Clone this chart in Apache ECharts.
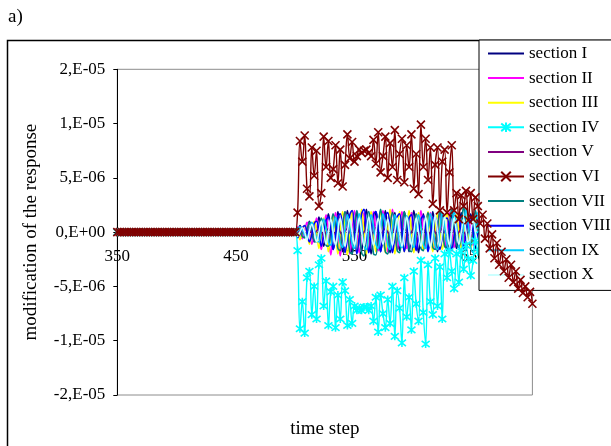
<!DOCTYPE html>
<html><head><meta charset="utf-8">
<script src="https://cdn.jsdelivr.net/npm/echarts@6/dist/echarts.min.js"></script>
<style>html,body{margin:0;padding:0;background:#fff}#c{width:611px;height:446px}</style>
</head><body><div id="c"></div><script>
// time steps (x values)
const timeSteps = [350,352,354,356,358,360,362,364,366,368,370,372,374,376,378,380,382,384,386,388,390,392,394,396,398,400,402,404,406,408,410,412,414,416,418,420,422,424,426,428,430,432,434,436,438,440,442,444,446,448,450,452,454,456,458,460,462,464,466,468,470,472,474,476,478,480,482,484,486,488,490,492,494,496,498,500,
502,504,506,508,510,512,514,516,518,520,522,524,526,528,530,532,534,536,538,540,542,544,546,548,550,552,554,556,558,560,562,564,566,568,570,572,574,576,578,580,582,584,586,588,590,592,594,596,598,600,602,604,606,608,610,612,614,616,618,620,622,624,626,628,630,632,634,636,638,640,642,644,646,648,650,652,654,656,658,660,662,664,666,668,670,672,674,676,678,680,682,684,686,688,690,692,694,696,698,700];
// values before the excitation (t = 350..500), unit 1e-6
const quietValues = [0,0,0,0,0,0,0,0,0,0,0,0,0,0,0,0,0,0,0,0,0,0,0,0,0,0,0,0,0,0,0,0,0,0,0,0,0,0,0,0,0,0,0,0,0,0,0,0,0,0,0,0,0,0,0,0,0,0,0,0,0,0,0,0,0,0,0,0,0,0,0,0,0,0,0,0];
const sectionNames = ['section I','section II','section III','section IV','section V','section VI','section VII','section VIII','section IX','section X'];
// values for t = 502..700, unit 1e-6
const sectionI = [0.1,0.6,0,-0.5, 0.1,1.0,-0.1,-0.9, 0,1.4,0.1,-1.3, 0.1,1.7,0,-1.6, 0,1.9,0.1,-1.8, 0.1,2.0,0,-1.9, 0,1.8,-0.1,-1.7, 0.1,2.1,0,-2.0, 0,1.9,0.1,-1.8, 0.1,2.0,0,-1.9, 0,1.8,0,-1.7, 0.1,1.9,-0.1,-1.8, 0,2.0,0.1,-1.9, 0.1,1.7,0,-1.6, 0,1.9,0,-1.8, 0.1,1.8,-0.1,-1.7, 0,1.6,0.1,-1.5, 0.1,1.8,0,-1.7, 0,1.7,0.1,-1.6, 0.1,1.4,0,-1.3, 0,1.0,0,-0.9, 0.1,0.8,0,-0.7, 0,0.6,0,-0.5, 0,0.5,0,-0.4, 0,0.4,0,-0.3];
const sectionII = [0.5,0,-0.6,0.1, 0.9,0.1,-1.1,0, 1.3,0,-1.6,0.1, 1.6,0.1,-2.1,0, 1.8,0,-2.2,0.1, 1.9,0.1,-2.0,0, 2.0,0,-1.9,0.1, 1.8,0.1,-1.8,0, 1.9,0,-1.7,0.1, 2.0,0.1,-1.8,0, 2.1,0,-1.6,0.1, 1.9,0.1,-1.5,0, 1.8,0,-1.6,0.1, 2.0,0.1,-1.4,0, 1.8,0,-1.5,0.1, 1.7,0.1,-1.3,0, 1.8,0,-1.4,0.1, 1.6,0.1,-1.3,0, 1.5,0,-1.2,0.1, 1.2,0.1,-1.0,0, 0.9,0,-0.8,0.1, 0.7,0,-0.6,0, 0.5,0,-0.5,0, 0.4,0,-0.4,0, 0.3,0,-0.3,0];
const sectionIII = [0,-0.7,0.1,0.6, 0,-1.1,0,1.0, 0.1,-1.5,0,1.3, 0,-1.8,0.1,1.6, 0,-2.0,0,1.9, 0.1,-2.1,0,2.0, 0,-1.9,0.1,2.1, 0,-2.0,0,1.9, 0.1,-1.8,0,2.0, 0,-1.9,0.1,2.1, 0,-2.0,0,1.9, 0.1,-1.8,0,2.0, 0,-1.9,0.1,1.8, 0,-1.7,0,1.9, 0.1,-1.8,0,1.7, 0,-1.6,0.1,1.8, 0,-1.7,0,1.6, 0.1,-1.5,0,1.5, 0,-1.6,0.1,1.4, 0,-1.2,0,1.1, 0.1,-0.9,0,0.8, 0,-0.7,0,0.6, 0,-0.5,0,0.5, 0,-0.4,0,0.4, 0,-0.3,0,0.3];
const sectionIV = [-1.7,-8.9,-6.4,-9.3,-4.2,-3.6,-7.6,-5.0,-8.0,-3.0,-2.4,-6.8,-4.5,-8.6,-5.5,-5.0,-8.8,-5.8,-8.0,-4.6,-5.4,-8.6,-6.2,-8.4,-6.8,-7.2,-7.0,-7.2,-6.9,-6.9,-7.2,-6.8,-8.2,-6.0,-9.2,-5.8,-7.5,-8.8,-6.2,-8.4,-5.0,-9.6,-5.4,-7.0,-10.2,-4.2,-7.8,-6.0,-9.0,-3.6,-6.6,-8.2,-2.6,-7.4,-10.3,-3.0,-6.4,-7.6,-2.4,-6.8,-3.2,-8.0,-2.0,-4.2,-1.8,-3.6,-5.2,-2.0,-4.6,-1.8,-3.4,-1.2,-2.5,-4.0,-2.6,-0.8,-1.8,0.2,-0.6,1.0,0.4,2.0,1.2,3.0,1.6,3.6,2.4,4.4,3.2,4.8,3.8,5.2,4.4,5.6,4.8,6.0,5.2,6.2,5.8,6.4];
const sectionV = [0,0.1,0,-0.1, 0,0.2,0,-0.2, 0.1,0.3,0,-0.3, 0,0.3,0.1,-0.3, 0,0.4,0,-0.3, 0.1,0.3,0,-0.4, 0,0.4,0,-0.3, 0,0.3,0.1,-0.4, 0,0.4,0,-0.3, 0.1,0.3,0,-0.3, 0,0.4,0,-0.4, 0,0.3,0.1,-0.3, 0,0.4,0,-0.3, 0.1,0.3,0,-0.4, 0,0.4,0,-0.3, 0,0.3,0,-0.3, 0.1,0.3,0,-0.3, 0,0.3,0,-0.2, 0,0.2,0.1,-0.3, 0,0.2,0,-0.2, 0,0.2,0,-0.2, 0,0.1,0,-0.1, 0,0.1,0,-0.1, 0,0.1,0,-0.1, 0,0.1,0,-0.1];
const sectionVI = [1.8,8.4,6.5,8.9,4.0,3.3,7.8,5.2,7.5,2.4,3.6,8.8,6.0,8.4,5.0,5.8,8.0,4.5,7.6,4.2,6.2,9.0,6.8,8.3,6.5,7.0,7.6,7.3,7.5,7.6,7.3,7.0,8.5,6.3,9.2,5.5,7.0,8.8,5.0,8.2,6.0,9.4,4.8,7.2,8.6,4.6,8.0,6.0,9.0,4.0,7.2,3.5,9.9,6.0,8.6,4.8,7.8,2.6,6.2,7.8,2.0,6.5,7.6,1.8,5.5,8.0,2.0,3.6,1.2,3.4,2.4,3.8,1.1,3.6,1.2,3.2,2.4,0.8,1.6,-0.6,0.8,-1.5,-0.2,-2.4,-1.0,-3.0,-1.8,-3.6,-2.5,-4.2,-3.0,-4.6,-3.6,-5.2,-4.4,-5.6,-5.0,-6.0,-5.5,-6.6];
const sectionVII = [0.4,0.2,-0.4,-0.5,0.1, 0.9,0.3,-0.8,-0.9,0.2, 1.3,0.4,-1.2,-1.3,0.3, 1.7,0.5,-1.5,-1.7,0.3, 1.9,0.6,-1.8,-2.0,0.4, 2.0,0.5,-1.9,-2.2,0.4, 1.9,0.6,-2.0,-2.1,0.3, 2.1,0.5,-1.8,-2.0,0.4, 1.8,0.6,-1.7,-1.9,0.3, 1.9,0.5,-1.6,-1.8,0.4, 1.7,0.5,-1.5,-1.7,0.3, 1.8,0.6,-1.4,-1.6,0.3, 2.0,0.5,-1.3,-1.5,0.4, 2.2,0.6,-1.2,-1.4,0.3, 2.4,0.5,-1.0,-1.2,0.3, 2.0,0.4,-0.9,-1.0,0.2, 1.4,0.3,-0.7,-0.8,0.2, 1.0,0.2,-0.5,-0.6,0.1, 0.7,0.2,-0.4,-0.4,0.1, 0.5,0.1,-0.3,-0.3,0.1];
const sectionVIII = [-0.5,-0.1,0.4,0.6,0, -0.9,-0.2,0.8,1.0,0.1, -1.3,-0.3,1.1,1.4,0.1, -1.6,-0.3,1.4,1.7,0.2, -1.9,-0.4,1.6,2.0,0.2, -2.0,-0.4,1.7,2.1,0.2, -1.9,-0.4,1.6,1.9,0.2, -1.8,-0.3,1.5,1.8,0.2, -1.9,-0.4,1.4,1.7,0.1, -1.8,-0.4,1.3,1.6,0.2, -1.7,-0.3,1.2,1.5,0.1, -1.8,-0.4,1.3,1.4,0.2, -1.6,-0.3,1.1,1.3,0.1, -1.7,-0.3,1.0,1.2,0.1, -1.5,-0.3,1.0,1.1,0.1, -1.2,-0.2,0.8,0.9,0.1, -0.9,-0.2,0.6,0.7,0.1, -0.7,-0.1,0.5,0.5,0, -0.5,-0.1,0.3,0.4,0, -0.4,-0.1,0.2,0.3,0];
const sectionIX = [0.1,0.5,0.2,-0.3,-0.5, 0.2,0.9,0.3,-0.6,-0.9, 0.2,1.2,0.4,-0.9,-1.2, 0.3,1.4,0.5,-1.0,-1.4, 0.3,1.6,0.5,-1.1,-1.5, 0.3,1.7,0.6,-1.2,-1.6, 0.3,1.6,0.5,-1.1,-1.5, 0.3,1.7,0.6,-1.2,-1.6, 0.3,1.6,0.5,-1.1,-1.4, 0.3,1.5,0.5,-1.0,-1.4, 0.3,1.6,0.5,-1.1,-1.5, 0.3,1.7,0.6,-1.2,-1.6, 0.3,1.8,0.6,-1.2,-1.7, 0.3,1.9,0.6,-1.3,-1.8, 0.4,2.1,0.7,-1.4,-1.9, 0.3,1.8,0.6,-1.2,-1.6, 0.3,1.4,0.5,-1.0,-1.3, 0.2,1.0,0.3,-0.7,-0.9, 0.1,0.7,0.2,-0.5,-0.6, 0.1,0.5,0.2,-0.3,-0.4];
const sectionX = [-0.4,0,0.4,0, -0.7,0.1,0.7,0, -0.9,0,1.0,0.1, -1.1,0,1.2,0, -1.2,0.1,1.3,0, -1.3,0,1.2,0.1, -1.2,0,1.3,0, -1.3,0.1,1.4,0, -1.2,0,1.3,0.1, -1.1,0,1.2,0, -1.2,0.1,1.3,0, -1.3,0,1.4,0.1, -1.2,0,1.3,0, -1.3,0.1,1.4,0, -1.4,0,1.5,0.1, -1.3,0,1.4,0, -1.2,0.1,1.3,0, -1.1,0,1.2,0.1, -1.0,0,1.1,0, -0.8,0.1,0.9,0, -0.6,0,0.7,0, -0.5,0,0.5,0, -0.4,0,0.4,0, -0.3,0,0.3,0, -0.2,0,0.2,0];
const yTickValues = [-15,-10,-5,0,5,10,15];
const yTickLabels = ['-2,E-05','-1,E-05','-5,E-06','0,E+00','5,E-06','1,E-05','2,E-05'];
const xTickLabels = ['350','450','550','650'];

const activeValues = [sectionI,sectionII,sectionIII,sectionIV,sectionV,sectionVI,sectionVII,sectionVIII,sectionIX,sectionX];
const colors = ['#000080','#FF00FF','#FFFF00','#00FFFF','#800080','#800000','#008080','#0000FF','#00CCFF','#CCFFFF'];
const FONT = 'Liberation Serif';
const xMark = 'path://M0,0L10,10M10,0L0,10';
const starMark = 'path://M5,0L5,10M1,1L9,9M9,1L1,9';
const lineIcon = 'path://M0,0L36,0L36,2L0,2Z';

const series = sectionNames.map((name, si) => {
  const vals = quietValues.concat(activeValues[si]);
  const data = timeSteps.map((t, i) => [t, vals[i]]);
  const s = {
    name, type: 'line', data, smooth: 0.4,
    lineStyle: { color: colors[si], width: 1.6 },
    itemStyle: { color: colors[si] },
    symbol: 'none', z: 2, animation: false
  };
  if (si === 3 || si === 5) {
    s.symbol = si === 5 ? xMark : starMark;
    s.symbolSize = 8;
    s.showAllSymbol = true;
    s.itemStyle = { color: colors[si], borderColor: colors[si], borderWidth: 1.6 };
    s.lineStyle.width = 1.4;
    s.z = si === 5 ? 4 : 3;
  }
  return s;
});

const legendData = sectionNames.map((name, si) => (si === 3 || si === 5) ? { name } : { name, icon: lineIcon });

const chart = echarts.init(document.getElementById('c'), null, { renderer: 'canvas' });
chart.setOption({
  animation: false,
  backgroundColor: '#fff',
  textStyle: { fontFamily: FONT },
  graphic: [
    { type: 'rect', shape: { x: 7.5, y: 40.5, width: 700, height: 500 }, style: { fill: 'none', stroke: '#000', lineWidth: 1.5 }, z: -1, silent: true },
    { type: 'text', left: 8, top: 8, style: { text: 'a)', fontFamily: FONT, fontSize: 19, fill: '#000' } }
  ],
  grid: { left: 117.3, top: 69.3, right: 78.6, bottom: 51, show: true, borderColor: '#8c8c8c', borderWidth: 1, backgroundColor: '#fff', outerBoundsMode: 'none', containLabel: false },
  legend: {
    orient: 'vertical', left: 479, top: 40,
    padding: [5, 40, 7, 8],
    backgroundColor: '#fff', borderColor: '#000', borderWidth: 1,
    itemWidth: 36, itemHeight: 12, itemGap: 7.6,
    textStyle: { fontFamily: FONT, fontSize: 17, color: '#000', lineHeight: 17 },
    data: legendData
  },
  xAxis: {
    type: 'value', min: 350, max: 700, interval: 100,
    position: 'bottom', offset: -162.85,
    name: 'time step', nameLocation: 'middle', nameGap: 187,
    nameTextStyle: { fontFamily: FONT, fontSize: 19, color: '#000' },
    axisLine: { onZero: false, lineStyle: { color: '#000', width: 1 } },
    axisTick: { show: true, length: 4, lineStyle: { color: '#000' } },
    splitLine: { show: false },
    axisLabel: { margin: 16, fontFamily: FONT, fontSize: 17, color: '#000',
      formatter: v => xTickLabels.includes(String(v)) ? String(v) : '' }
  },
  yAxis: {
    type: 'value', min: -15, max: 15, interval: 5,
    name: 'modification of the response', nameLocation: 'middle', nameGap: 77,
    nameTextStyle: { fontFamily: FONT, fontSize: 19, color: '#000' },
    axisLine: { show: true, onZero: false, lineStyle: { color: '#000', width: 1 } },
    axisTick: { show: true, length: 4, lineStyle: { color: '#000' } },
    splitLine: { show: false },
    axisLabel: { margin: 12, fontFamily: FONT, fontSize: 17, color: '#000',
      formatter: v => { const k = yTickValues.indexOf(v); return k >= 0 ? yTickLabels[k] : ''; } }
  },
  series
});
</script></body></html>
